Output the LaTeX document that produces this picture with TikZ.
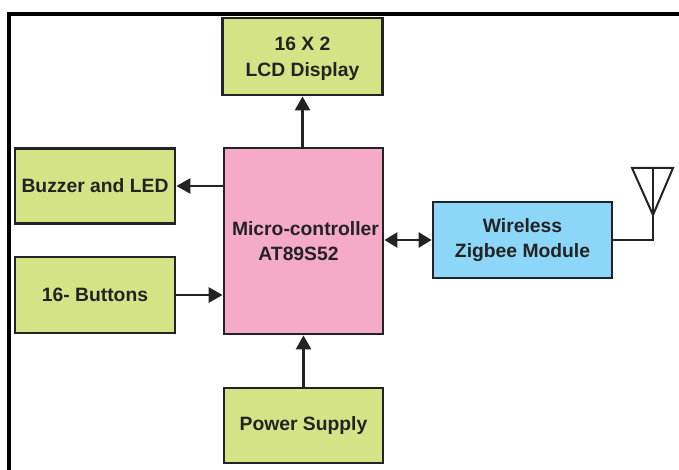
\documentclass[tikz,border=0pt]{standalone}
\usepackage{fontspec}
\setsansfont{Liberation Sans}
\usetikzlibrary{arrows.meta}
\definecolor{boxgreen}{RGB}{211,227,133}
\definecolor{boxpink}{RGB}{245,170,200}
\definecolor{boxblue}{RGB}{140,215,247}
\definecolor{inkgrey}{RGB}{35,35,35}
\tikzset{
  block/.style={draw=inkgrey, line width=2.8pt, text=inkgrey, align=center, inner sep=0pt, anchor=center},
  flow/.style={draw=inkgrey, line width=2.8pt, -{Triangle[length=14pt,width=15pt]}},
  duplex/.style={draw=inkgrey, line width=2.8pt, {Triangle[length=13pt,width=15pt]}-{Triangle[length=13pt,width=15pt]}},
}
\begin{document}
\begin{tikzpicture}[x=1pt, y=-1pt, font=\sffamily\bfseries\fontsize{19.3}{25.5}\selectfont]
    \useasboundingbox (0,0) rectangle (679,470);
    \fill[white] (0,0) rectangle (679,470);
    % outer frame, cut off by the page at the bottom
    \draw[line width=4pt, black] (9,470) -- (9,14) -- (679,14);
    % blocks
    \node[block, fill=boxgreen, minimum width=160pt, minimum height=77pt] (lcd) at (302.5,56.5) {\rule{0pt}{18pt}16 X 2\\LCD Display};
    \node[block, fill=boxgreen, minimum width=160pt, minimum height=75pt] (buzzer) at (95,186) {Buzzer and LED};
    \node[block, fill=boxgreen, minimum width=160pt, minimum height=76pt] (buttons) at (95,295) {16- Buttons};
    \node[block, fill=boxpink, minimum width=159pt, minimum height=186pt] (mcu) at (303.5,241) {\hspace*{4pt}Micro-controller\\\hspace*{4pt}AT89S52\hspace*{14pt}};
    \node[block, fill=boxgreen, minimum width=159pt, minimum height=75pt] (power) at (303.5,425.5) {Power Supply};
    \node[block, fill=boxblue, minimum width=179pt, minimum height=76pt] (zigbee) at (522.5,240) {Wireless\\Zigbee Module};
    % connectors
    \draw[flow] (lcd.south |- mcu.north) -- (lcd.south);
    \draw[flow] (mcu.west |- buzzer.east) -- (buzzer.east);
    \draw[flow] (buttons.east) -- (mcu.west |- buttons.east);
    \draw[flow] (power.north) -- (mcu.south);
    \draw[duplex] (mcu.east |- zigbee.west) -- (zigbee.west);
    % antenna
    \coordinate (feed) at (653,240);
    \coordinate (tip) at (653,215);
    \coordinate (mastTop) at (653,168);
    \coordinate (armL) at (632,168);
    \coordinate (armR) at (673,168);
    \draw[line width=2pt, inkgrey] (zigbee.east |- feed) -- (feed) -- (mastTop);
    \draw[line width=2pt, inkgrey] (tip) -- (armL) -- (armR) -- cycle;
\end{tikzpicture}
\end{document}
